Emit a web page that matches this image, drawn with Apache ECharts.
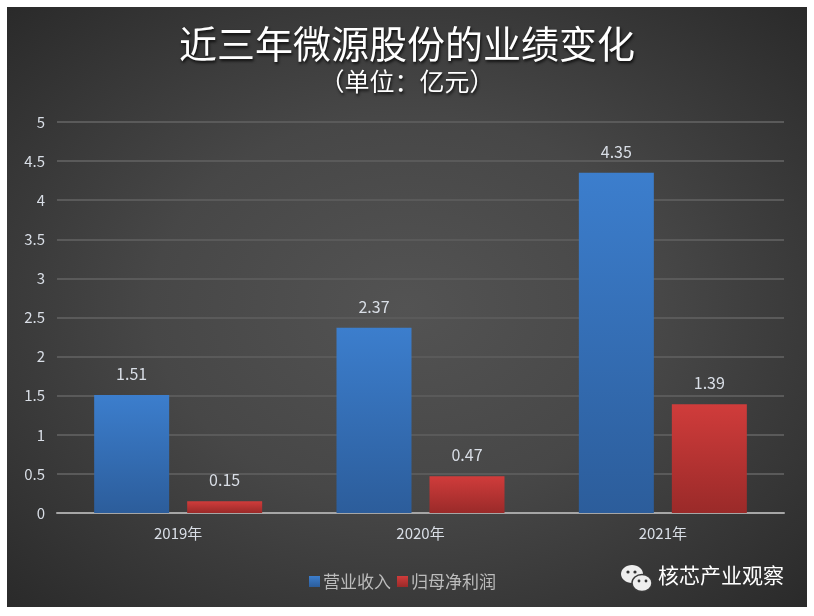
<!DOCTYPE html>
<html>
<head>
    <meta charset="utf-8">
    <title>近三年微源股份的业绩变化</title>
    <script src="https://cdn.jsdelivr.net/npm/echarts@6/dist/echarts.min.js"></script>
    <style>
        html, body { margin: 0; padding: 0; background: #fff; }
        #bg {
            position: absolute; left: 7px; top: 7px; width: 800px; height: 600px;
            background: radial-gradient(ellipse at 50% 50%, #535353 0%, #474747 45%, #2a2a2a 100%);
        }
        #main { position: absolute; left: 0; top: 0; width: 814px; height: 616px; }
    </style>
</head>
<body>
    <div id="bg"></div>
    <div id="main"></div>
    <script>
        // 数据
        var years = ['2019年', '2020年', '2021年'];
        var revenue = [1.51, 2.37, 4.35];   // 营业收入
        var profit = [0.15, 0.47, 1.39];    // 归母净利润
        var seriesNames = ['营业收入', '归母净利润'];

        var labelColor = '#d9dee6';
        var font = '"Noto Sans CJK SC", "Noto Sans", sans-serif';

        function grad(top, bottom) {
            return new echarts.graphic.LinearGradient(0, 0, 0, 1, [
                {offset: 0, color: top},
                {offset: 1, color: bottom}
            ]);
        }

        var myChart = echarts.init(document.getElementById('main'));
        var option = {
            backgroundColor: 'transparent',
            animation: false,
            title: [{
                text: '近三年微源股份的业绩变化',
                left: 'center',
                top: 20,
                textStyle: {
                    color: '#fff', fontSize: 38, fontWeight: 'normal', fontFamily: font,
                    textShadowColor: 'rgba(0,0,0,0.8)', textShadowBlur: 3, textShadowOffsetX: 1, textShadowOffsetY: 2
                }
            }, {
                text: '（单位：亿元）',
                left: 'center',
                top: 64,
                textStyle: {
                    color: '#fff', fontSize: 25, fontWeight: 'normal', fontFamily: font,
                    textShadowColor: 'rgba(0,0,0,0.8)', textShadowBlur: 3, textShadowOffsetX: 1, textShadowOffsetY: 2
                }
            }],
            legend: {
                data: seriesNames,
                left: 304,
                top: 568,
                itemWidth: 11,
                itemHeight: 11,
                itemGap: 6,
                icon: 'rect',
                textStyle: {color: '#bcbcbc', fontSize: 17, fontFamily: font, padding: [0, 0, 0, -2]}
            },
            grid: {left: 57, right: 30, top: 122, bottom: 103, containLabel: false},
            xAxis: {
                type: 'category',
                data: years,
                axisLine: {lineStyle: {color: '#a6a6a6', width: 2}},
                axisTick: {show: false},
                axisLabel: {color: labelColor, fontSize: 15, margin: 13, fontFamily: font}
            },
            yAxis: {
                type: 'value',
                min: 0,
                max: 5,
                interval: 0.5,
                axisLine: {show: false},
                axisTick: {show: false},
                axisLabel: {color: labelColor, fontSize: 15, margin: 12, fontFamily: font},
                splitLine: {lineStyle: {color: '#5a5a5a', width: 2}}
            },
            series: [{
                name: seriesNames[0],
                type: 'bar',
                data: revenue,
                barWidth: 75,
                barGap: '24%',
                itemStyle: {color: grad('#3c7ecd', '#2c5d9b')},
                label: {show: true, position: 'top', distance: 13, color: labelColor, fontSize: 16, fontFamily: font}
            }, {
                name: seriesNames[1],
                type: 'bar',
                data: profit,
                barWidth: 75,
                barGap: '24%',
                itemStyle: {color: grad('#d03c3b', '#9a2a29')},
                label: {show: true, position: 'top', distance: 13, color: labelColor, fontSize: 16, fontFamily: font}
            }],
            graphic: [{
                type: 'group',
                left: 621,
                top: 565,
                children: [
                    {type: 'ellipse', shape: {cx: 11, cy: 9, rx: 11, ry: 9}, style: {fill: '#eeeeee'}},
                    {type: 'circle', shape: {cx: 7, cy: 7, r: 1.6}, style: {fill: '#333'}},
                    {type: 'circle', shape: {cx: 14, cy: 7, r: 1.6}, style: {fill: '#333'}},
                    {type: 'ellipse', shape: {cx: 21, cy: 18, rx: 10, ry: 8.5}, style: {fill: '#eeeeee', stroke: '#3a3a3a', lineWidth: 1.5}},
                    {type: 'circle', shape: {cx: 18, cy: 16, r: 1.4}, style: {fill: '#333'}},
                    {type: 'circle', shape: {cx: 25, cy: 16, r: 1.4}, style: {fill: '#333'}}
                ]
            }, {
                type: 'text',
                left: 658,
                top: 565,
                style: {text: '核芯产业观察', fill: '#ffffff', fontSize: 21, fontFamily: font}
            }]
        };
        myChart.setOption(option);
    </script>
</body>
</html>
